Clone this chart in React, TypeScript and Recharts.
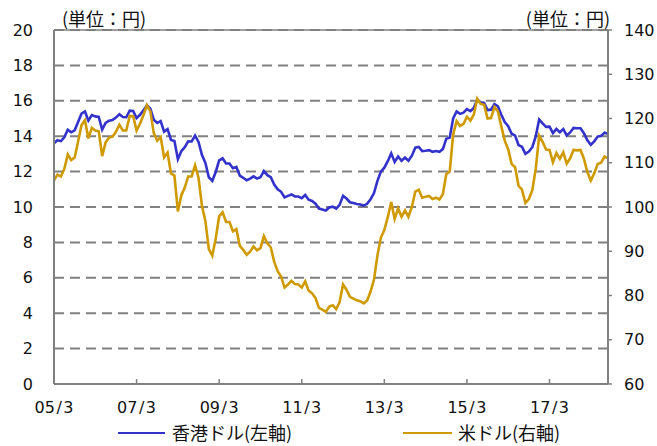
import React from "react"
import { LineChart, Line, XAxis, YAxis, CartesianGrid, ReferenceLine } from "recharts"

// month labels "05/3" ... "18/8"
const months: string[] = []
for (let y = 2005; y <= 2018; y++) {
  const first = y === 2005 ? 3 : 1
  const last = y === 2018 ? 8 : 12
  for (let m = first; m <= last; m++) {
    months.push(`${String(y % 100).padStart(2, "0")}/${m}`)
  }
}

const xTicks = ["05/3", "07/3", "09/3", "11/3", "13/3", "15/3", "17/3"]
const leftTicks = [0, 2, 4, 6, 8, 10, 12, 14, 16, 18, 20]
const rightTicks = [60, 70, 80, 90, 100, 110, 120, 130, 140]

// 香港ドル (円/HKD), left axis
const hkd = [
  13.6, 13.77, 13.72, 13.94, 14.36, 14.22, 14.33, 14.8, 15.28, 15.4,
  14.88, 15.19, 15.12, 15.09, 14.37, 14.75, 14.88, 14.91, 15.05, 15.24, 15.08, 15.07,
  15.44, 15.43, 15.02, 15.21, 15.46, 15.75, 15.55, 14.93, 14.75, 14.85, 14.26, 14.4,
  13.79, 13.73, 12.7, 13.15, 13.38, 13.71, 13.7, 14.03, 13.68, 12.94, 12.49, 11.68,
  11.48, 11.98, 12.63, 12.75, 12.46, 12.46, 12.19, 12.26, 11.77, 11.65, 11.51, 11.6,
  11.73, 11.61, 11.68, 12.03, 11.8, 11.68, 11.27, 11.0, 10.86, 10.54, 10.63, 10.71,
  10.6, 10.59, 10.5, 10.68, 10.41, 10.34, 10.19, 9.91, 9.86, 9.8, 9.97, 10.02,
  9.91, 10.12, 10.63, 10.48, 10.27, 10.22, 10.17, 10.14, 10.08, 10.18, 10.44, 10.79,
  11.48, 12.0, 12.22, 12.59, 13.03, 12.55, 12.85, 12.61, 12.79, 12.61, 12.9, 13.35,
  13.39, 13.16, 13.18, 13.21, 13.12, 13.16, 13.12, 13.27, 13.85, 13.92, 15.01, 15.4,
  15.26, 15.33, 15.53, 15.42, 15.6, 16.05, 15.91, 15.88, 15.48, 15.5, 15.82, 15.69,
  15.21, 14.8, 14.57, 14.14, 14.03, 13.5, 13.4, 13.0, 13.13, 13.38, 13.99, 14.94,
  14.72, 14.53, 14.54, 14.17, 14.41, 14.23, 14.4, 14.04, 14.21, 14.47, 14.45, 14.45,
  14.17, 13.77, 13.51, 13.71, 13.98, 14.02, 14.2, 14.14,
]

// 米ドル (円/USD), right axis
const usd = [
  106.0, 107.3, 106.9, 108.6, 111.9, 110.6, 111.2, 114.8, 118.5, 119.6,
  115.5, 117.9, 117.3, 117.1, 111.5, 114.6, 115.7, 115.9, 117.0, 118.6, 117.3, 117.3,
  120.6, 120.5, 117.3, 118.8, 120.8, 123.0, 121.6, 116.7, 115.0, 115.8, 111.2, 112.3,
  107.6, 107.1, 99.0, 102.6, 104.4, 106.9, 106.9, 109.4, 106.6, 100.3, 96.8, 90.5,
  89.0, 92.9, 97.9, 98.8, 96.6, 96.6, 94.5, 95.0, 91.2, 90.3, 89.2, 89.9,
  91.1, 90.2, 90.7, 93.4, 91.8, 90.9, 87.6, 85.5, 84.3, 81.8, 82.5, 83.3,
  82.6, 82.5, 81.8, 83.2, 81.1, 80.5, 79.4, 77.2, 76.8, 76.3, 77.5, 77.8,
  76.9, 78.5, 82.5, 81.3, 79.7, 79.3, 78.9, 78.7, 78.2, 78.9, 80.9, 83.6,
  89.1, 93.1, 94.8, 97.7, 101.1, 97.3, 99.7, 97.8, 99.2, 97.8, 100.0, 103.5,
  103.9, 102.1, 102.3, 102.5, 101.8, 102.1, 101.7, 102.9, 107.4, 108.0, 116.4, 119.4,
  118.3, 118.8, 120.4, 119.5, 120.9, 124.5, 123.3, 123.1, 120.0, 120.1, 122.6, 121.6,
  118.2, 115.0, 113.0, 109.7, 109.0, 104.8, 103.9, 100.9, 101.8, 103.8, 108.6, 116.1,
  114.7, 113.0, 112.9, 110.1, 112.2, 110.9, 112.4, 109.8, 111.0, 112.9, 112.8, 112.9,
  110.9, 107.9, 106.0, 107.6, 109.7, 110.0, 111.4, 111.0,
]

const data = months.map((m, i) => ({ m, hkd: hkd[i], usd: usd[i] }))

const BLUE = "#3333CC"
const GOLD = "#CF9A00"
const GRAY = "#808080"
const NUM_FONT = "'DejaVu Sans', sans-serif"
const JP_FONT = "'Noto Sans CJK JP', sans-serif"

const XTick = (props: any) => {
  const { x, y, payload } = props
  const [a, b] = String(payload.value).split("/")
  return (
    <g>
      <line x1={x} x2={x} y1={y} y2={y - 5} stroke={GRAY} strokeWidth={1.5} />
      <text x={x} y={y + 29} textAnchor="middle" fontFamily={NUM_FONT} fontSize={16} fill="#111">
        <tspan>{a}</tspan>
        <tspan dx={1.5}>/</tspan>
        <tspan dx={1.5}>{b}</tspan>
      </text>
    </g>
  )
}

export default function App() {
  return (
    <div style={{ position: "absolute", left: 0, top: 0, width: 657, height: 446, background: "#fff" }}>
      <LineChart width={657} height={446} data={data} margin={{ top: 30, right: 0, bottom: 0, left: 0 }}>
        <CartesianGrid
          yAxisId="left"
          vertical={false}
          stroke={GRAY}
          strokeWidth={2}
          strokeDasharray="10 6"
        />
        <XAxis
          dataKey="m"
          ticks={xTicks}
          interval={0}
          height={62}
          tickSize={0}
          tickMargin={0}
          tickLine={false}
          tick={XTick}
          axisLine={{ stroke: GRAY, strokeWidth: 2 }}
        />
        <YAxis
          yAxisId="left"
          width={54}
          domain={[0, 20]}
          ticks={leftTicks}
          interval={0}
          tickLine={false}
          tickSize={0}
          tickMargin={21}
          axisLine={{ stroke: GRAY, strokeWidth: 2 }}
          tick={{ fontFamily: NUM_FONT, fontSize: 16, fill: "#111" }}
        />
        <YAxis
          yAxisId="right"
          orientation="right"
          width={49}
          domain={[60, 140]}
          ticks={rightTicks}
          interval={0}
          tickSize={4}
          tickMargin={12}
          tickLine={{ stroke: GRAY, strokeWidth: 1.5 }}
          axisLine={{ stroke: GRAY, strokeWidth: 2 }}
          tick={{ fontFamily: NUM_FONT, fontSize: 16, fill: "#111" }}
        />
        <ReferenceLine yAxisId="left" y={20} stroke={GRAY} strokeWidth={1.5} />
        <Line
          yAxisId="left"
          dataKey="hkd"
          type="linear"
          stroke={BLUE}
          strokeWidth={2.6}
          dot={false}
          isAnimationActive={false}
        />
        <Line
          yAxisId="right"
          dataKey="usd"
          type="linear"
          stroke={GOLD}
          strokeWidth={2.6}
          dot={false}
          isAnimationActive={false}
        />
      </LineChart>
      <svg
        width={657}
        height={446}
        style={{ position: "absolute", left: 0, top: 0, pointerEvents: "none" }}
      >
        <text x={62} y={26} fontFamily={JP_FONT} fontSize={18} fill="#111">(単位：円)</text>
        <text x={610} y={26} textAnchor="end" fontFamily={JP_FONT} fontSize={18} fill="#111">(単位：円)</text>
        <line x1={118} x2={165} y1={433} y2={433} stroke={BLUE} strokeWidth={2} />
        <text x={172} y={440} fontFamily={JP_FONT} fontSize={18} fill="#111">香港ドル(左軸)</text>
        <line x1={403} x2={452} y1={433} y2={433} stroke={GOLD} strokeWidth={2} />
        <text x={458} y={440} fontFamily={JP_FONT} fontSize={18} fill="#111">米ドル(右軸)</text>
      </svg>
    </div>
  )
}
